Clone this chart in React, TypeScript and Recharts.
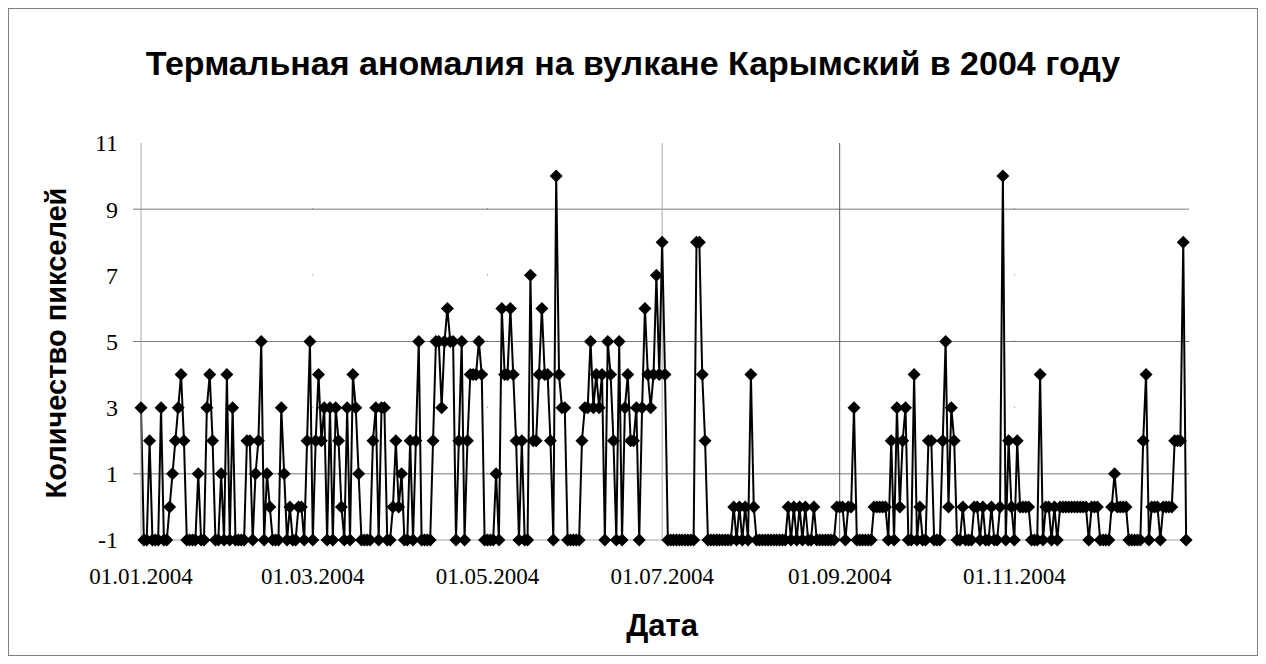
import { Line, LineChart, ReferenceLine, XAxis, YAxis } from "recharts";

// thermal anomaly pixel counts, one value per day (-1 = no data)
const jan = [3, -1, -1, 2, -1, -1, -1, 3, -1, -1, 0, 1, 2, 3, 4, 2, -1, -1, -1, -1, 1, -1, -1, 3, 4, 2, -1, -1, 1, -1, 4];
const feb = [-1, 3, -1, -1, -1, -1, 2, 2, -1, 1, 2, 5, -1, 1, 0, -1, -1, -1, 3, 1, -1, 0, -1, -1, 0, 0, -1, 2, 5];
const mar = [-1, 2, 4, 2, 3, -1, 3, -1, 3, 2, 0, -1, 3, -1, 4, 3, 1, -1, -1, -1, -1, 2, 3, -1, 3, 3, -1, -1, 0, 2, 0];
const apr = [1, -1, -1, 2, -1, 2, 5, -1, -1, -1, -1, 2, 5, 5, 3, 5, 6, 5, 5, -1, 2, 5, -1, 2, 4, 4, 4, 5, 4, -1];
const may = [-1, -1, -1, 1, -1, 6, 4, 4, 6, 4, 2, -1, 2, -1, -1, 7, 2, 2, 4, 6, 4, 4, 2, -1, 10, 4, 3, 3, -1, -1, -1];
const jun = [-1, -1, 2, 3, 3, 5, 3, 4, 3, 4, -1, 5, 4, 2, -1, 5, -1, 3, 4, 2, 2, 3, -1, 3, 6, 4, 3, 4, 7, 4];
const jul = [8, 4, -1, -1, -1, -1, -1, -1, -1, -1, -1, -1, 8, 8, 4, 2, -1, -1, -1, -1, -1, -1, -1, -1, -1, 0, -1, 0, -1, 0, -1];
const aug = [4, 0, -1, -1, -1, -1, -1, -1, -1, -1, -1, -1, -1, 0, -1, 0, -1, 0, -1, 0, -1, -1, 0, -1, -1, -1, -1, -1, -1, -1, 0];
const sep = [0, 0, -1, 0, 0, 3, -1, -1, -1, -1, -1, -1, 0, 0, 0, 0, 0, -1, 2, -1, 3, 0, 2, 3, -1, -1, 4, -1, 0, -1];
const oct = [-1, 2, 2, -1, -1, -1, 2, 5, 0, 3, 2, -1, -1, 0, -1, -1, -1, 0, 0, -1, 0, -1, -1, 0, -1, -1, 0, 10, -1, 2, 0];
const nov = [-1, 2, 0, 0, 0, 0, -1, -1, -1, 4, -1, 0, 0, -1, 0, -1, 0, 0, 0, 0, 0, 0, 0, 0, 0, 0, -1, 0, 0, 0];
const dec = [-1, -1, -1, -1, 0, 1, 0, 0, 0, 0, -1, -1, -1, -1, -1, 2, 4, -1, 0, 0, 0, -1, 0, 0, 0, 0, 2, 2, 2, 8, -1];

const tickDays = [0, 60, 121, 182, 244, 305];
const tickLabels = ["01.01.2004", "01.03.2004", "01.05.2004", "01.07.2004", "01.09.2004", "01.11.2004"];
const yTicks = [-1, 1, 3, 5, 7, 9, 11];
const gridValues = [1, 5, 9];

const counts = [jan, feb, mar, apr, may, jun, jul, aug, sep, oct, nov, dec].flat();
const data = counts.map((count, day) => ({ day, count }));

const serif = "'Liberation Serif', 'Times New Roman', serif";
const sans = "'Liberation Sans', Arial, sans-serif";

function Diamond(props: any) {
  const { cx, cy, index } = props;
  if (cx == null || cy == null) return null;
  const s = 6.5;
  return (
    <polygon
      key={index}
      points={`${cx},${cy - s} ${cx + s},${cy} ${cx},${cy + s} ${cx - s},${cy}`}
      fill="#000"
    />
  );
}

function YTick(props: any) {
  const { x, y, payload } = props;
  const v = payload.value;
  return (
    <g>
      {gridValues.includes(v) && (
        <line x1={x + 15} x2={x + 23} y1={y} y2={y} stroke="#7a7a7a" />
      )}
      <text x={x} y={y} dy="0.35em" textAnchor="end" fontFamily={serif} fontSize={24} fill="#000">
        {v}
      </text>
    </g>
  );
}

export default function App() {
  return (
    <div style={{ position: "relative", width: 1250, height: 648, background: "#fff" }}>
      <div
        style={{
          position: "absolute",
          inset: 0,
          border: "1px solid #808080",
          boxSizing: "border-box",
        }}
      />
      <div
        style={{
          position: "absolute",
          top: 38,
          left: 0,
          width: 1250,
          textAlign: "center",
          fontFamily: sans,
          fontWeight: "bold",
          fontSize: 34,
          lineHeight: "34px",
        }}
      >
        Термальная аномалия на вулкане Карымский в 2004 году
      </div>
      <div
        style={{
          position: "absolute",
          left: 48,
          top: 335,
          transform: "translate(-50%, -50%) rotate(-90deg)",
          whiteSpace: "nowrap",
          fontFamily: sans,
          fontWeight: "bold",
          fontSize: 29,
          lineHeight: "29px",
        }}
      >
        Количество пикселей
      </div>
      <div
        style={{
          position: "absolute",
          left: 654,
          top: 617,
          transform: "translate(-50%, -50%)",
          fontFamily: sans,
          fontWeight: "bold",
          fontSize: 31,
          lineHeight: "31px",
        }}
      >
        Дата
      </div>
      <div style={{ position: "absolute", left: 0, top: 0 }}>
        <LineChart width={1250} height={648} data={data} margin={{ top: 135, right: 69, bottom: 56, left: 73 }}>
          {gridValues.map((v) => (
            <ReferenceLine key={v} y={v} stroke="#7a7a7a" strokeWidth={1} />
          ))}
          <ReferenceLine x={182} stroke="#a8a8a8" />
          <ReferenceLine x={244} stroke="#5a5a5a" />
          {[60, 121, 305].map((d) => (
            <ReferenceLine key={d} x={d} stroke="#777" strokeDasharray="1 65.17" />
          ))}
          <XAxis
            dataKey="day"
            type="number"
            domain={[0, 366]}
            ticks={tickDays}
            tickFormatter={(d) => tickLabels[tickDays.indexOf(d)] ?? ""}
            height={60}
            stroke="#a8a8a8"
            tickLine={false}
            tickMargin={22}
            tick={{ fill: "#000", fontSize: 23, fontFamily: serif }}
            interval={0}
          />
          <YAxis
            domain={[-1, 11]}
            ticks={yTicks}
            width={60}
            stroke="#a8a8a8"
            tickLine={false}
            tickMargin={17}
            tick={<YTick />}
            interval={0}
          />
          <Line
            type="linear"
            dataKey="count"
            stroke="#000"
            strokeWidth={2}
            dot={<Diamond />}
            activeDot={false}
            isAnimationActive={false}
          />
        </LineChart>
      </div>
    </div>
  );
}
